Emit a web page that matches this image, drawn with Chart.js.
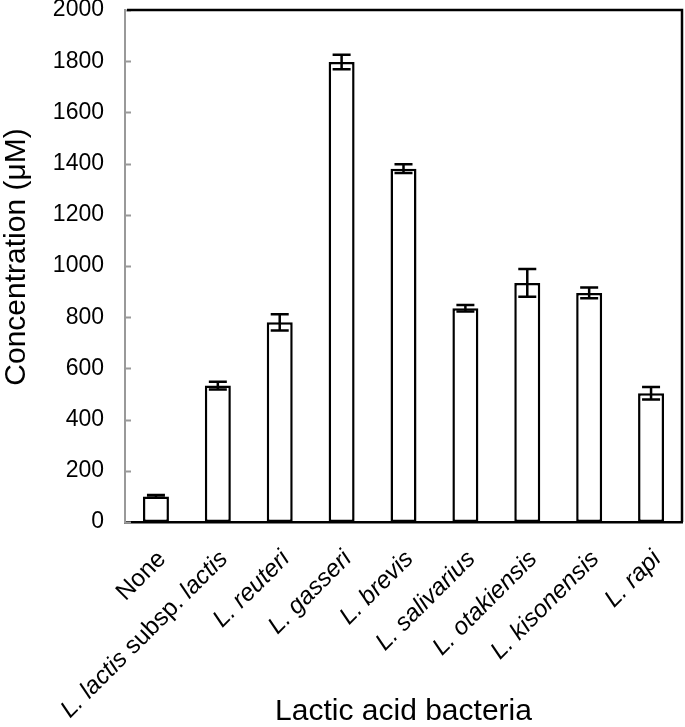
<!DOCTYPE html>
<html>
<head>
<meta charset="utf-8">
<script src="https://cdn.jsdelivr.net/npm/chart.js@4.4.0/dist/chart.umd.min.js"></script>
<style>
  html, body { margin: 0; padding: 0; background: #fff; }
  #wrap { width: 685px; height: 727px; position: relative; }
</style>
</head>
<body>
<div id="wrap"><canvas id="c" width="685" height="727"></canvas></div>
<script>
// ---- data ----
const categories = ['None', 'L. lactis subsp. lactis', 'L. reuteri', 'L. gasseri', 'L. brevis',
  'L. salivarius', 'L. otakiensis', 'L. kisonensis', 'L. rapi'];
// label parts: [text, italic]
const labelParts = [
  [['None', false]],
  [['L. lactis ', true], ['subsp. ', false], ['lactis', true]],
  [['L. reuteri', true]],
  [['L. gasseri', true]],
  [['L. brevis', true]],
  [['L. salivarius', true]],
  [['L. otakiensis', true]],
  [['L. kisonensis', true]],
  [['L. rapi', true]]
];
const concentration = [100, 533, 780, 1797, 1380, 835, 934, 895, 503];
const errorSD = [5, 15, 32, 28, 17, 13, 54, 21, 24];
const yMin = 0, yMax = 2000, yStep = 200;
const yTitle = 'Concentration (\u03BCM)';
const xTitle = 'Lactic acid bacteria';

const FONT = '"Liberation Sans", Arial, Helvetica, sans-serif';

const decorPlugin = {
  id: 'decor',
  afterDatasetsDraw(chart) {
    const ctx = chart.ctx;
    const ca = chart.chartArea;
    const y = chart.scales.y;
    ctx.save();
    // inward gray tick marks on the y axis
    ctx.strokeStyle = '#999999';
    ctx.lineWidth = 2;
    ctx.beginPath();
    y.ticks.forEach(t => {
      const py = Math.round(y.getPixelForValue(t.value)) + 0.5;
      ctx.moveTo(ca.left, py);
      ctx.lineTo(ca.left + 6, py);
    });
    ctx.stroke();
    // top and right frame
    ctx.strokeStyle = '#000';
    ctx.lineWidth = 2.5;
    ctx.beginPath();
    ctx.moveTo(ca.left + 2, ca.top);
    ctx.lineTo(ca.right, ca.top);
    ctx.lineTo(ca.right, ca.bottom);
    ctx.stroke();
    // error bars
    const meta = chart.getDatasetMeta(0);
    meta.data.forEach((bar, i) => {
      const v = concentration[i], e = errorSD[i];
      const cx = bar.x;
      const yt = y.getPixelForValue(v + e);
      const yb = y.getPixelForValue(v - e);
      ctx.lineWidth = 2.5;
      ctx.beginPath();
      ctx.moveTo(cx, yt); ctx.lineTo(cx, yb);
      ctx.moveTo(cx - 9, yt); ctx.lineTo(cx + 9, yt);
      ctx.moveTo(cx - 9, yb); ctx.lineTo(cx + 9, yb);
      ctx.stroke();
    });
    ctx.restore();
  },
  afterDraw(chart) {
    const ctx = chart.ctx;
    const ca = chart.chartArea;
    const x = chart.scales.x;
    ctx.save();
    ctx.fillStyle = '#000';
    // rotated x labels with mixed italic
    const fs = 24.5;
    labelParts.forEach((parts, i) => {
      const cx = x.getPixelForTick(i);
      ctx.save();
      ctx.translate(cx + 11, ca.bottom + 38);
      ctx.rotate(-Math.PI / 4);
      ctx.textBaseline = 'alphabetic';
      ctx.textAlign = 'left';
      let total = 0;
      const widths = parts.map(([t, it]) => {
        ctx.font = (it ? 'italic ' : '') + fs + 'px ' + FONT;
        const w = ctx.measureText(t).width;
        total += w;
        return w;
      });
      let pos = -total;
      parts.forEach(([t, it], k) => {
        ctx.font = (it ? 'italic ' : '') + fs + 'px ' + FONT;
        ctx.fillText(t, pos, 0);
        pos += widths[k];
      });
      ctx.restore();
    });
    // axis titles
    ctx.font = '30px ' + FONT;
    ctx.textAlign = 'center';
    ctx.textBaseline = 'alphabetic';
    ctx.fillText(xTitle, (ca.left + ca.right) / 2, 720);
    ctx.save();
    ctx.translate(25, 257);
    ctx.rotate(-Math.PI / 2);
    ctx.fillText(yTitle, 0, 0);
    ctx.restore();
    ctx.restore();
  }
};

new Chart(document.getElementById('c'), {
  type: 'bar',
  data: {
    labels: categories,
    datasets: [{
      data: concentration,
      backgroundColor: '#ffffff',
      borderColor: '#000000',
      borderWidth: 2.5,
      borderSkipped: false,
      categoryPercentage: 1.0,
      barPercentage: 0.42
    }]
  },
  options: {
    responsive: false,
    animation: false,
    devicePixelRatio: 1,
    layout: { padding: { top: 10, right: 3, left: 0, bottom: 0 } },
    plugins: { legend: { display: false }, tooltip: { enabled: false }, title: { display: false } },
    scales: {
      x: {
        offset: true,
        grid: { display: false },
        border: { display: true, color: '#000000', width: 2.5 },
        ticks: { display: false },
        afterFit(scale) { scale.height = 205; scale.paddingLeft = 0; scale.paddingRight = 0; }
      },
      y: {
        min: yMin, max: yMax,
        grid: { display: false, drawTicks: false, tickLength: 0 },
        border: { display: true, color: '#999999', width: 2 },
        ticks: {
          stepSize: yStep,
          padding: 21,
          color: '#000',
          font: { family: FONT, size: 23 },
          callback: (v) => String(v)
        },
        afterFit(scale) { scale.width = 125; scale.paddingTop = 0; scale.paddingBottom = 0; }
      }
    }
  },
  plugins: [decorPlugin]
});
</script>
</body>
</html>
